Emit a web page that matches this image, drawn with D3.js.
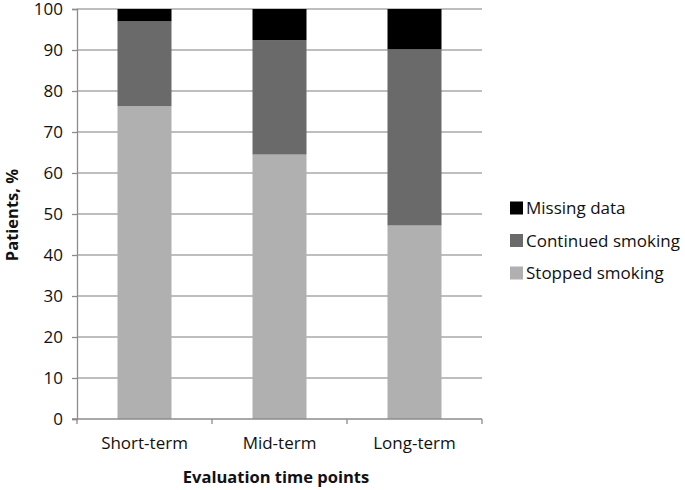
<!DOCTYPE html>
<html><head><meta charset="utf-8">
<script src="https://cdn.jsdelivr.net/npm/d3@7"></script>
<style>body{margin:0;background:#fff}svg{display:block}text{font-family:"Open Sans",sans-serif}</style>
</head><body>
<svg id="c" width="685" height="490"></svg>
<script>
const categories = ["Short-term", "Mid-term", "Long-term"];
const stopped = [76.3, 64.5, 47.2];
const continued = [20.7, 27.9, 43.0];
const missing = [3.0, 7.6, 9.8];
const seriesNames = ["Stopped smoking", "Continued smoking", "Missing data"];
const seriesColors = ["#b0b0b0", "#6a6a6a", "#000000"];
const yTicks = [0,10,20,30,40,50,60,70,80,90,100];

const svg = d3.select("#c");
const L = 77, R = 482, T = 9, B = 419;
const x = d3.scaleBand().domain(categories).range([L, R]).paddingInner(0.6).paddingOuter(0.3);
const xb = d3.scaleBand().domain(categories).range([L, R]);
const y = d3.scaleLinear().domain([0, 100]).range([B, T]);

// gridlines
svg.append("g").selectAll("line").data(yTicks.filter(d=>d>0)).join("line")
  .attr("x1", L).attr("x2", R).attr("y1", d=>y(d)).attr("y2", d=>y(d))
  .attr("stroke", "#a8a8a8").attr("stroke-width", 1.3);

const rows = categories.map((c,i)=>({cat:c, s:stopped[i], c:continued[i], m:missing[i]}));
const stack = d3.stack().keys(["s","c","m"])(rows);
stack.forEach((layer, k) => {
  svg.append("g").attr("fill", seriesColors[k]).selectAll("rect").data(layer).join("rect")
    .attr("x", d=>x(d.data.cat)).attr("width", x.bandwidth())
    .attr("y", d=>y(d[1])).attr("height", d=>y(d[0])-y(d[1]));
});

// y axis
const ya = svg.append("g").attr("transform", `translate(${L},0)`)
  .call(d3.axisLeft(y).tickValues(yTicks).tickSize(5).tickPadding(9));
ya.select(".domain").attr("stroke", "#8c8c8c").attr("stroke-width", 1.3);
ya.selectAll(".tick line").attr("stroke", "#8c8c8c").attr("stroke-width", 1.3);
ya.selectAll("text").attr("font-size", 17).attr("fill", "#111").attr("font-family", "Open Sans");

// x axis
const xa = svg.append("g").attr("transform", `translate(0,${B})`);
xa.append("line").attr("x1", L-5).attr("x2", R).attr("stroke", "#8c8c8c").attr("stroke-width", 1.3);
const bounds = categories.map(c=>xb(c)).concat([R]);
xa.selectAll("line.t").data(bounds).join("line").attr("class","t")
  .attr("x1", d=>d).attr("x2", d=>d).attr("y1", 0).attr("y2", 5)
  .attr("stroke", "#8c8c8c").attr("stroke-width", 1.3);
xa.selectAll("text").data(categories).join("text")
  .attr("x", d=>xb(d)+xb.bandwidth()/2).attr("y", 30)
  .attr("text-anchor", "middle").attr("font-size", 17).attr("fill", "#111").text(d=>d);

// axis titles
svg.append("text").attr("x", 276).attr("y", 483).attr("text-anchor","middle")
  .attr("font-size", 16.5).attr("font-weight", "bold").attr("fill", "#111").text("Evaluation time points");
svg.append("text").attr("transform", `translate(18,${(T+B)/2 + 1}) rotate(-90)`).attr("text-anchor","middle")
  .attr("font-size", 16.5).attr("font-weight", "bold").attr("fill", "#111").text("Patients, %");

// legend (reverse order)
const legendOrder = [2,1,0];
const lg = svg.append("g").selectAll("g").data(legendOrder).join("g")
  .attr("transform", (d,i)=>`translate(510,${208 + i*32.5})`);
lg.append("rect").attr("x",0).attr("y",-6.5).attr("width",13).attr("height",13).attr("fill", d=>seriesColors[d]);
lg.append("text").attr("x", 16).attr("y", 6).attr("font-size", 17).attr("fill", "#111").text(d=>seriesNames[d]);
</script>
</body></html>
